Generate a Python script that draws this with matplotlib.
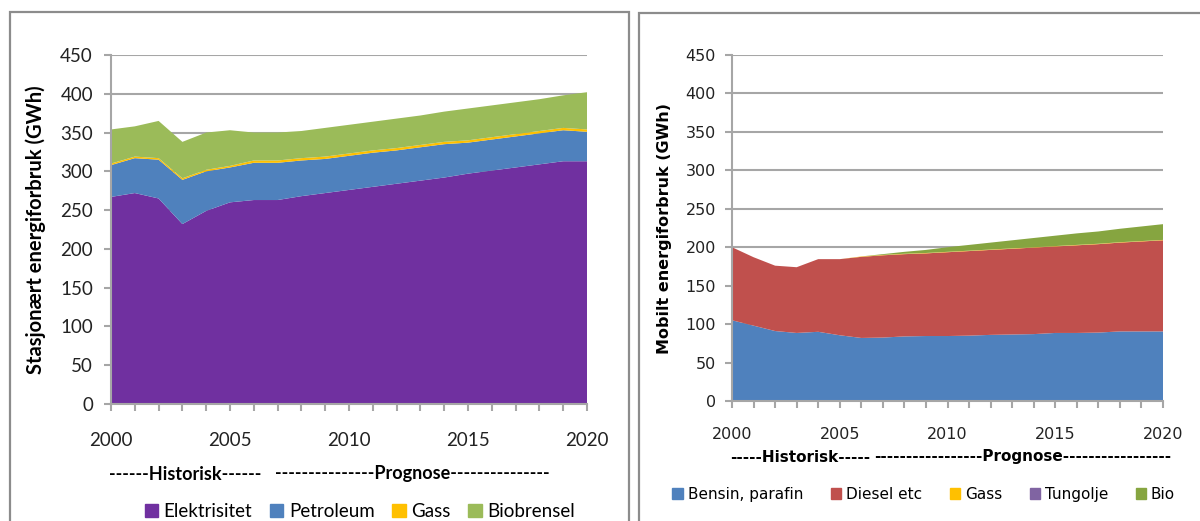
import matplotlib
matplotlib.use("Agg")
import matplotlib.pyplot as plt
from matplotlib.patches import Patch, Rectangle
import numpy as np

years = list(range(2000, 2021))

# stasjonært forbruk (GWh)
elektrisitet = [267, 272, 265, 232, 249, 260, 263, 263, 268, 272, 276,
                280, 284, 288, 292, 297, 301, 305, 309, 313, 313]
petroleum = [41, 45, 50, 57, 51, 45, 48, 48, 46, 44, 44,
             44, 43, 43, 43, 40, 40, 40, 40, 40, 38]
gass_st = [2, 2, 2, 2, 2, 2, 3, 3, 3, 3, 3,
           3, 3, 3, 3, 3, 3, 3, 3, 3, 3]
biobrensel = [44, 39, 48, 47, 48, 46, 36, 36, 35, 37, 37,
              37, 38, 38, 39, 41, 41, 41, 41, 42, 48]

# mobilt forbruk (GWh)
bensin = [105, 98, 91, 88.5, 90, 85.5, 82, 82.5, 84, 84.5, 84.5,
          85, 86, 86.5, 87, 88.5, 88.5, 89, 90.5, 90.5, 90.5]
diesel = [95, 89, 85, 85.5, 94.5, 99, 105.5, 107, 107, 107.5, 109,
          110, 110.5, 111.5, 112.5, 112.5, 114, 115, 115.5, 117, 118.5]
gass_mob = [0, 0, 0, 0, 0, 0, 0.5, 0.5, 0.5, 0.5, 0.5,
            0.5, 0.5, 0.5, 0.5, 0.5, 0.5, 0.5, 0.5, 0.5, 0.5]
tungolje = [0, 0, 0, 0, 0, 0, 0, 0, 0, 0, 0,
            0, 0, 0, 0, 0, 0, 0, 0, 0, 0]
bio = [0, 0, 0, 0, 0, 0, 0, 1, 2.5, 4, 6,
       7.5, 9, 10.5, 12, 13.5, 15, 16, 17.5, 19, 20.5]

labels_st = ["Elektrisitet", "Petroleum", "Gass", "Biobrensel"]
colors_st = ["#7030A0", "#4F81BD", "#FFC000", "#9BBB59"]
labels_mob = ["Bensin, parafin", "Diesel etc", "Gass", "Tungolje", "Bio"]
colors_mob = ["#4F81BD", "#C0504D", "#FFC000", "#8064A2", "#86A540"]

grid_c = "#A6A6A6"

fig = plt.figure(figsize=(12, 5.21), dpi=100)

# panel frames
fig.add_artist(Rectangle((10 / 1200, -0.05), 619 / 1200, 1.05 - 12 / 521,
                         transform=fig.transFigure, fill=False,
                         edgecolor="#8C8C8C", lw=1.6))
fig.add_artist(Rectangle((639 / 1200, -0.05), 0.5, 1.05 - 13 / 521,
                         transform=fig.transFigure, fill=False,
                         edgecolor="#8C8C8C", lw=1.6))


def style_axes(ax, font, size, xpad, ypad):
    ax.set_xlim(2000, 2020)
    ax.set_ylim(0, 450)
    ax.set_yticks(np.arange(0, 451, 50))
    ax.set_xticks(years, minor=True)
    ax.set_xticks([2000, 2005, 2010, 2015, 2020])
    ax.yaxis.grid(True, color=grid_c, lw=1.5)
    ax.set_axisbelow(True)
    for s in ["top", "right"]:
        ax.spines[s].set_visible(False)
    for s in ["left", "bottom"]:
        ax.spines[s].set_color(grid_c)
        ax.spines[s].set_linewidth(1.5)
        ax.spines[s].set_zorder(3)
    ax.tick_params(axis="both", which="both", color=grid_c, width=1.5,
                   length=5, direction="out")
    ax.tick_params(axis="x", pad=xpad)
    ax.tick_params(axis="y", pad=ypad)
    for t in ax.get_xticklabels() + ax.get_yticklabels():
        t.set_fontfamily(font)
        t.set_fontsize(size)
        t.set_color("#222222")


# stasjonært
ax1 = fig.add_axes([111 / 1200, 1 - 404 / 521, 476 / 1200, 349 / 521])
ax1.stackplot(years, elektrisitet, petroleum, gass_st, biobrensel,
              colors=colors_st, lw=0, zorder=2)
style_axes(ax1, "Lato", 13.5, 15.5, 8)
ax1.set_ylabel("Stasjonært energiforbruk (GWh)", fontfamily="Lato",
               fontweight="bold", fontsize=14.5, labelpad=10)
ax1.legend([Patch(color=c) for c in colors_st], labels_st, ncol=4,
           loc="center", bbox_to_anchor=(0.523, -0.309), frameon=False,
           prop={"family": "Lato", "size": 13.5}, handlelength=0.7,
           handleheight=0.7, handletextpad=0.3, columnspacing=0.95)
fig.text(185 / 1200, 1 - 474 / 521, "------Historisk------", ha="center",
         va="center", fontfamily="Lato", fontweight="bold", fontsize=13)
fig.text(412 / 1200, 1 - 474 / 521,
         "---------------Prognose---------------", ha="center",
         va="center", fontfamily="Lato", fontweight="bold", fontsize=13)

# mobilt
ax2 = fig.add_axes([732 / 1200, 1 - 401 / 521, 431 / 1200, 346 / 521])
ax2.stackplot(years, bensin, diesel, gass_mob, tungolje, bio,
              colors=colors_mob, lw=0, zorder=2)
style_axes(ax2, "DejaVu Sans", 11.5, 14, 6.5)
ax2.set_ylabel("Mobilt energiforbruk (GWh)", fontfamily="DejaVu Sans",
               fontweight="bold", fontsize=11.5, labelpad=10)
ax2.legend([Patch(color=c) for c in colors_mob], labels_mob, ncol=5,
           loc="center", bbox_to_anchor=(0.445, -0.269), frameon=False,
           prop={"family": "DejaVu Sans", "size": 11}, handlelength=0.7,
           handleheight=0.7, handletextpad=0.3, columnspacing=1.8)
fig.text(800 / 1200, 1 - 457 / 521, "-----Historisk-----", ha="center",
         va="center", fontfamily="DejaVu Sans", fontweight="bold",
         fontsize=11)
fig.text(1023 / 1200, 1 - 457 / 521,
         "-----------------Prognose-----------------", ha="center",
         va="center", fontfamily="DejaVu Sans", fontweight="bold",
         fontsize=11)

fig.savefig("out.png", dpi=100)
